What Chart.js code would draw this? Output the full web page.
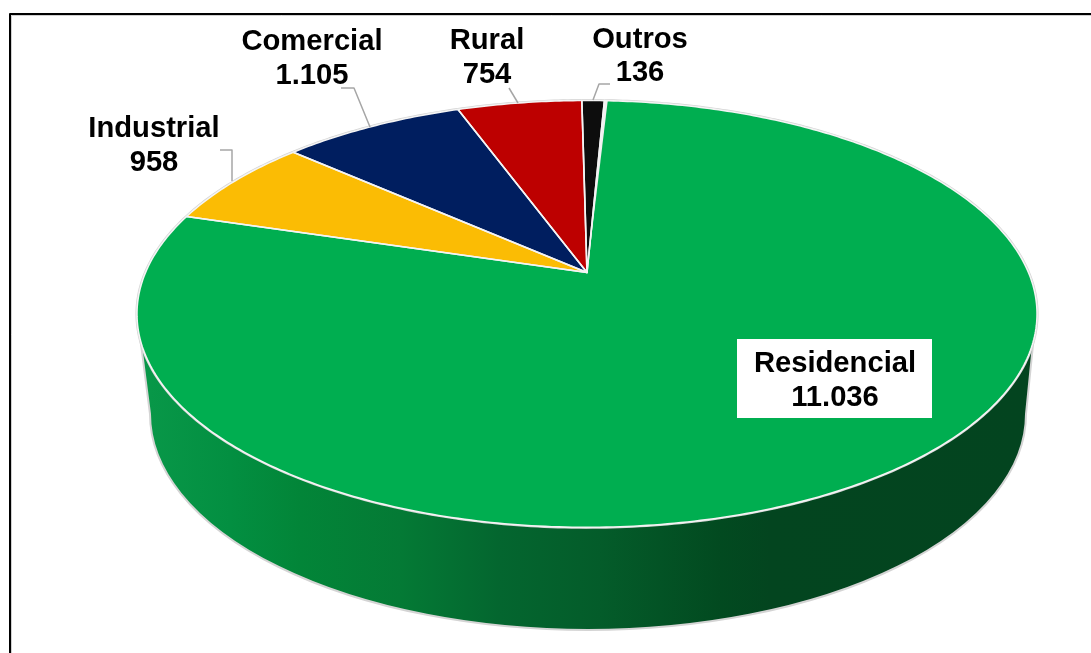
<!DOCTYPE html>
<html lang="pt-BR">
<head>
<meta charset="utf-8">
<title>Consumidores por classe</title>
<script src="https://cdn.jsdelivr.net/npm/chart.js@4"></script>
<style>
    html, body { margin: 0; padding: 0; background: #fff; overflow: hidden; }
    canvas { display: block; }
</style>
</head>
<body>
<canvas id="pieChart" width="1091" height="653"></canvas>
<script>
const categories = ['Residencial', 'Industrial', 'Comercial', 'Rural', 'Outros'];
const values = [11036, 958, 1105, 754, 136];
const sliceColors = ['#00ae50', '#fbbc04', '#001e5f', '#bd0000', '#0d0d0d'];

// where each two-line label sits: [center x, first line y, second line y]
const labelSpots = [[835, 364, 398], [154, 129, 163], [312, 42, 76], [487, 41, 75], [640, 40, 73]];
const leaderLines = [
    null,
    [[220, 150], [232, 150], [232, 181]],
    [[341, 88], [354, 88], [370, 127]],
    [[509, 88], [518, 103]],
    [[610, 84], [599, 84], [593, 100]]
];

// perspective of the disc top: apex on screen, radii and foreshortening
const apex = { x: 587, y: 272.5 };
const tilt = { a: 441.5, b: 205.4, k: 0.194 };
// lower rim of the side wall
const rim = { x: 588, y: 414, rx: 438, ry: 216 };
// the big slice is pulled slightly away from its neighbour at the top
const seamGap = 0.009;

const wallStops = [
    [150, '#089748'], [230, '#038f41'], [300, '#028538'], [400, '#047a35'], [500, '#04662f'],
    [600, '#045c2a'], [720, '#024a20'], [770, '#03451f'], [1030, '#03441f']
];

function project(angle) {
    const u = Math.cos(angle), v = Math.sin(angle);
    const w = 1 - tilt.k * v;
    return [apex.x + tilt.a * u / w, apex.y + tilt.b * v / w];
}

function traceSlice(ctx, start, end) {
    const steps = Math.max(4, Math.ceil((end - start) * 80));
    ctx.beginPath();
    ctx.moveTo(apex.x, apex.y);
    for (let i = 0; i <= steps; i++) {
        const p = project(start + (end - start) * i / steps);
        ctx.lineTo(p[0], p[1]);
    }
    ctx.closePath();
}

function drawWall(ctx) {
    const left = project(Math.PI - 0.32);
    const right = project(0.32);
    const grad = ctx.createLinearGradient(150, 0, 1030, 0);
    wallStops.forEach(s => grad.addColorStop((s[0] - 150) / 880, s[1]));

    ctx.beginPath();
    ctx.moveTo(left[0], left[1]);
    ctx.lineTo(rim.x - rim.rx, rim.y);
    ctx.ellipse(rim.x, rim.y, rim.rx, rim.ry, 0, Math.PI, 0, true);
    ctx.lineTo(right[0], right[1]);
    ctx.closePath();
    ctx.fillStyle = grad;
    ctx.fill();
    ctx.strokeStyle = '#d4d4d4';
    ctx.lineWidth = 2;
    ctx.stroke();
}

const tiltedPie = {
    id: 'tiltedPie',
    beforeDatasetsDraw(chart) {
        const ctx = chart.ctx;
        const arcs = chart.getDatasetMeta(0).data;
        ctx.save();
        ctx.lineJoin = 'round';

        // frame
        ctx.strokeStyle = '#d0d0d0';
        ctx.lineWidth = 1;
        ctx.beginPath();
        ctx.moveTo(11.5, 653);
        ctx.lineTo(11.5, 15.5);
        ctx.lineTo(1091, 15.5);
        ctx.stroke();
        ctx.strokeStyle = '#000';
        ctx.lineWidth = 2;
        ctx.beginPath();
        ctx.moveTo(10, 653);
        ctx.lineTo(10, 14);
        ctx.lineTo(1091, 14);
        ctx.stroke();

        drawWall(ctx);

        // soft gray halo around the disc, then the slices with white seams
        traceSlice(ctx, 0, Math.PI * 2);
        ctx.strokeStyle = '#d4d4d4';
        ctx.lineWidth = 3;
        ctx.stroke();
        arcs.forEach((arc, i) => {
            traceSlice(ctx, arc.startAngle, arc.endAngle);
            ctx.fillStyle = sliceColors[i];
            ctx.fill();
        });
        traceSlice(ctx, arcs[0].startAngle, arcs[0].startAngle + seamGap);
        ctx.fillStyle = '#f0f0f0';
        ctx.fill();
        arcs.forEach(arc => {
            traceSlice(ctx, arc.startAngle, arc.endAngle);
            ctx.strokeStyle = '#f4f4f4';
            ctx.lineWidth = 1.6;
            ctx.stroke();
        });

        // leader lines
        ctx.strokeStyle = '#a6a6a6';
        ctx.lineWidth = 1.5;
        leaderLines.forEach(line => {
            if (!line) return;
            ctx.beginPath();
            line.forEach((p, n) => n ? ctx.lineTo(p[0], p[1]) : ctx.moveTo(p[0], p[1]));
            ctx.stroke();
        });

        // white box behind the big slice label
        ctx.fillStyle = '#fff';
        ctx.fillRect(737, 339, 195, 79);

        ctx.fillStyle = '#000';
        ctx.font = 'bold 29.2px "Liberation Sans", Arial, sans-serif';
        ctx.textAlign = 'center';
        ctx.textBaseline = 'middle';
        categories.forEach((name, i) => {
            const spot = labelSpots[i];
            ctx.fillText(name, spot[0], spot[1]);
            ctx.fillText(String(values[i]).replace(/\B(?=(\d{3})+$)/g, '.'), spot[0], spot[2]);
        });
        ctx.restore();
        return false;
    }
};

new Chart(document.getElementById('pieChart'), {
    type: 'pie',
    data: {
        labels: categories,
        datasets: [{ data: values, backgroundColor: sliceColors }]
    },
    options: {
        responsive: false,
        animation: false,
        rotation: 2.7,
        plugins: { legend: { display: false }, tooltip: { enabled: false } }
    },
    plugins: [tiltedPie]
});
</script>
</body>
</html>
